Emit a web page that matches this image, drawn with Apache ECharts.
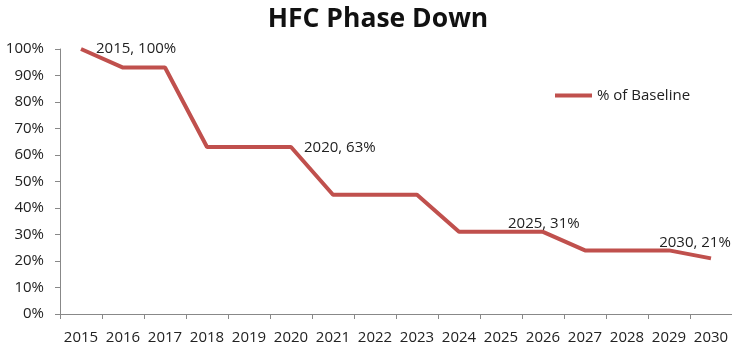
<!DOCTYPE html>
<html>
<head>
<meta charset="utf-8">
<script src="https://cdn.jsdelivr.net/npm/echarts@6/dist/echarts.min.js"></script>
<style>
  html, body { margin: 0; padding: 0; background: #fff; }
  #chart { width: 732px; height: 345px; }
</style>
</head>
<body>
<div id="chart"></div>
<script>
const years = ["2015", "2016", "2017", "2018", "2019", "2020", "2021", "2022",
               "2023", "2024", "2025", "2026", "2027", "2028", "2029", "2030"];
const pctOfBaseline = [100, 93, 93, 63, 63, 63, 45, 45, 45, 31, 31, 31, 24, 24, 24, 21];
// which points carry a "year, value" label
const labelled = ["2015", "2020", "2025", "2030"];

const FONT = "Open Sans";
const RED = "#c0504d";

const labelPos = {
  "2015": { position: "right", offset: [10, 0] },
  "2020": { position: "right", offset: [8, 1] },
  "2025": { position: "right", offset: [2, -8] },
  "2030": { position: "top", offset: [-16, -3] },
};

const seriesData = pctOfBaseline.map((v, i) => {
  const y = years[i];
  if (!labelled.includes(y)) return v;
  return {
    value: v,
    label: {
      show: true,
      ...labelPos[y],
      formatter: `${y}, ${v}%`,
      color: "#222",
      fontFamily: FONT,
      fontSize: 15,
    },
  };
});

const chart = echarts.init(document.getElementById("chart"), null, { renderer: "canvas" });
chart.setOption({
  animation: false,
  title: {
    text: "HFC Phase Down",
    left: 373,
    top: 1,
    textAlign: "center",
    textStyle: { fontFamily: FONT, fontWeight: "bold", fontSize: 26.5, color: "#111" },
  },
  legend: {
    data: ["% of Baseline"],
    left: 555,
    top: 88,
    padding: 0,
    itemWidth: 37,
    itemHeight: 4,
    icon: "rect",
    textStyle: { fontFamily: FONT, fontSize: 15, color: "#222" },
  },
  grid: { left: 60, right: 0, top: 49, bottom: 30 },
  xAxis: {
    type: "category",
    data: years,
    boundaryGap: true,
    axisLine: { lineStyle: { color: "#888", width: 1 } },
    axisTick: { show: true, interval: 0, length: 5, lineStyle: { color: "#888" } },
    axisLabel: { interval: 0, color: "#222", fontFamily: FONT, fontSize: 15, margin: 16 },
  },
  yAxis: {
    type: "value",
    min: 0,
    max: 100,
    interval: 10,
    axisLine: { show: true, lineStyle: { color: "#888", width: 1 } },
    axisTick: { show: true, length: 5, lineStyle: { color: "#888" } },
    splitLine: { show: false },
    axisLabel: { color: "#222", fontFamily: FONT, fontSize: 15, margin: 16, formatter: "{value}%" },
  },
  series: [
    {
      name: "% of Baseline",
      type: "line",
      data: seriesData,
      symbol: "circle",
      symbolSize: 0,
      showAllSymbol: true,
      lineStyle: { color: RED, width: 4 },
      itemStyle: { color: RED },
    },
  ],
});
</script>
</body>
</html>
